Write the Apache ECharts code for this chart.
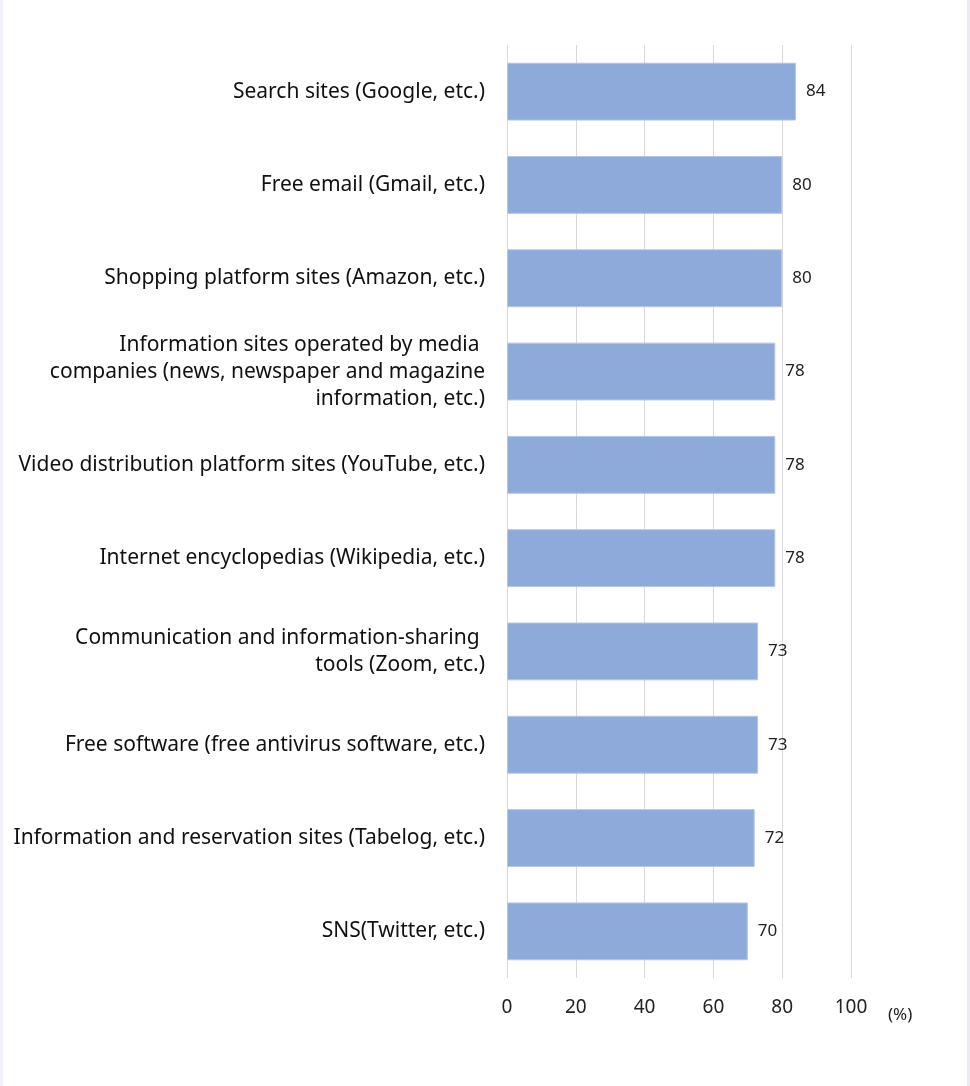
<!DOCTYPE html>
<html>
<head>
<meta charset="utf-8">
<script src="https://cdn.jsdelivr.net/npm/echarts@6/dist/echarts.min.js"></script>
<style>
  html, body { margin: 0; padding: 0; background: #fff; }
  #main { width: 970px; height: 1086px; box-sizing: border-box; border-left: 3px solid #f2f1fb; border-right: 3px solid #ece9f8; }
</style>
</head>
<body>
<div id="main"></div>
<script>
  // categories, top to bottom
  var categories = [
    'Search sites (Google, etc.)',
    'Free email (Gmail, etc.)',
    'Shopping platform sites (Amazon, etc.)',
    'Information sites operated by media \ncompanies (news, newspaper and magazine\ninformation, etc.)',
    'Video distribution platform sites (YouTube, etc.)',
    'Internet encyclopedias (Wikipedia, etc.)',
    'Communication and information-sharing \ntools (Zoom, etc.)',
    'Free software (free antivirus software, etc.)',
    'Information and reservation sites (Tabelog, etc.)',
    'SNS(Twitter, etc.)'
  ];
  var values = [84, 80, 80, 78, 78, 78, 73, 73, 72, 70];
  var tickLabels = [0, 20, 40, 60, 80, 100];

  var myChart = echarts.init(document.getElementById('main'));
  myChart.setOption({
    animation: false,
    grid: { left: 504, right: 116, top: 45, bottom: 108, containLabel: false },
    xAxis: {
      type: 'value',
      min: tickLabels[0],
      max: tickLabels[tickLabels.length - 1],
      interval: 20,
      axisLine: { show: false },
      axisTick: { show: false },
      splitLine: { show: true, lineStyle: { color: '#d9d9d9', width: 1 } },
      axisLabel: { margin: 20, fontSize: 19, color: '#222', fontFamily: 'Noto Sans' }
    },
    yAxis: {
      type: 'category',
      data: categories,
      inverse: true,
      axisLine: { show: false },
      axisTick: { show: false },
      axisLabel: {
        margin: 22, fontSize: 21, color: '#111', fontFamily: 'Noto Sans',
        lineHeight: 27, align: 'right'
      }
    },
    series: [{
      type: 'bar',
      data: values,
      barCategoryGap: '38%',
      itemStyle: { color: '#8eaadb', borderColor: '#b4c7e7', borderWidth: 1 },
      label: {
        show: true, position: 'right', distance: 10,
        fontSize: 17, color: '#222', fontFamily: 'Noto Sans'
      }
    }],
    graphic: [{
      type: 'text', left: 885, top: 1007,
      style: { text: '(%)', fontSize: 17, fill: '#222', fontFamily: 'Noto Sans' }
    }]
  });
</script>
</body>
</html>
